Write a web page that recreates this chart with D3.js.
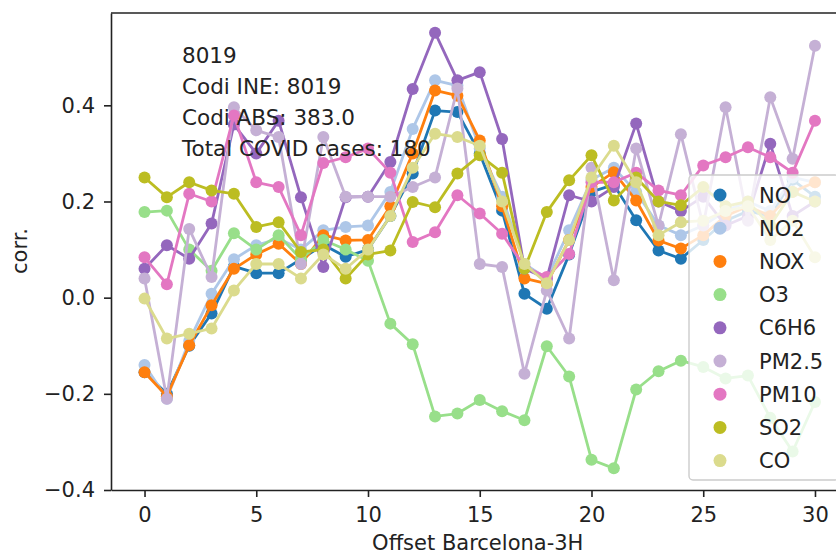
<!DOCTYPE html>
<html>
<head>
<meta charset="utf-8">
<script src="https://cdn.jsdelivr.net/npm/d3@7"></script>
<style>
  body { margin: 0; background: #fff; }
  text { font-family: "DejaVu Sans", sans-serif; fill: #222; }
</style>
</head>
<body>
<div id="chart"></div>
<script>
var offsets = [0,1,2,3,4,5,6,7,8,9,10,11,12,13,14,15,16,17,18,19,20,21,22,23,24,25,26,27,28,29,30];

var NO    = [-0.155,-0.20,-0.10,-0.033,0.065,0.051,0.051,0.08,0.11,0.085,0.10,0.17,0.258,0.389,0.386,0.30,0.181,0.008,-0.023,0.09,0.22,0.235,0.161,0.098,0.081,0.12,0.16,0.18,0.17,0.245,0.21];
var NO2   = [-0.14,-0.21,-0.09,0.008,0.08,0.109,0.123,0.10,0.14,0.147,0.15,0.22,0.351,0.452,0.441,0.31,0.21,0.07,0.04,0.14,0.245,0.27,0.22,0.15,0.13,0.15,0.18,0.20,0.18,0.25,0.24];
var NOX   = [-0.155,-0.205,-0.099,-0.016,0.06,0.09,0.112,0.07,0.13,0.119,0.12,0.19,0.30,0.431,0.42,0.327,0.19,0.04,0.029,0.12,0.23,0.261,0.202,0.119,0.102,0.13,0.17,0.19,0.17,0.22,0.24];
var O3    = [0.178,0.181,0.10,0.056,0.134,0.10,0.13,0.08,0.12,0.10,0.077,-0.054,-0.097,-0.247,-0.241,-0.213,-0.236,-0.255,-0.101,-0.164,-0.337,-0.355,-0.191,-0.153,-0.131,-0.144,-0.168,-0.162,-0.25,-0.32,-0.217];
var C6H6  = [0.06,0.109,0.081,0.154,0.36,0.30,0.368,0.209,0.064,0.209,0.21,0.282,0.434,0.551,0.452,0.469,0.33,0.06,0.04,0.213,0.20,0.23,0.362,0.20,0.18,0.21,0.15,0.17,0.32,0.17,0.20];
var PM25  = [0.04,-0.21,0.143,0.043,0.396,0.348,0.334,0.07,0.334,0.21,0.21,0.21,0.23,0.25,0.435,0.07,0.064,-0.158,0.015,-0.085,0.27,0.036,0.31,0.15,0.34,0.15,0.396,0.16,0.417,0.289,0.524];
var PM10  = [0.084,0.028,0.216,0.20,0.379,0.24,0.23,0.13,0.28,0.292,0.31,0.26,0.116,0.136,0.213,0.175,0.133,0.064,0.043,0.091,0.24,0.24,0.26,0.223,0.213,0.275,0.292,0.313,0.292,0.26,0.368];
var SO2   = [0.25,0.209,0.24,0.223,0.216,0.147,0.157,0.095,0.10,0.04,0.09,0.098,0.199,0.188,0.258,0.296,0.26,0.06,0.178,0.244,0.296,0.202,0.25,0.20,0.192,0.23,0.19,0.20,0.15,0.22,0.20];
var CO    = [-0.002,-0.085,-0.075,-0.064,0.015,0.07,0.07,0.04,0.09,0.06,0.10,0.17,0.27,0.341,0.334,0.316,0.20,0.07,0.03,0.12,0.25,0.316,0.24,0.13,0.157,0.16,0.18,0.19,0.12,0.16,0.084];

var names  = ["NO","NO2","NOX","O3","C6H6","PM2.5","PM10","SO2","CO"];
var colors = ["#1f77b4","#aec7e8","#ff7f0e","#98df8a","#9467bd","#c5b0d5","#e377c2","#bcbd22","#dbdb8d"];
var values = [NO, NO2, NOX, O3, C6H6, PM25, PM10, SO2, CO];

var xTicks = [0,5,10,15,20,25,30];
var yTicks = [-0.4,-0.2,0.0,0.2,0.4];
var infoLines = ["8019","Codi INE: 8019","Codi ABS: 383.0","Total COVID cases: 180"];

var svgWidth = 836, svgHeight = 555;
var plotLeft = 111, plotRight = 848.5, plotTop = 13, plotBottom = 490;
var fs = 21;

var xscale = d3.scaleLinear().domain([-1.5, 31.5]).range([plotLeft, plotRight]);
var yscale = d3.scaleLinear().domain([-0.4, 0.592]).range([plotBottom, plotTop]);

var svg = d3.select("#chart").append("svg")
  .attr("width", svgWidth)
  .attr("height", svgHeight);

svg.append("defs").append("clipPath").attr("id", "plot")
  .append("rect").attr("x", plotLeft).attr("y", plotTop)
  .attr("width", plotRight - plotLeft).attr("height", plotBottom - plotTop);

// series, drawn in legend order
var line = d3.line().x((d, i) => xscale(offsets[i])).y(d => yscale(d));
var plot = svg.append("g").attr("clip-path", "url(#plot)");
values.forEach(function(vals, k) {
  var g = plot.append("g");
  g.append("path")
    .datum(vals)
    .attr("d", line)
    .attr("fill", "none")
    .attr("stroke", colors[k])
    .attr("stroke-width", 2.8)
    .attr("stroke-linejoin", "round");
  g.selectAll("circle")
    .data(vals)
    .enter().append("circle")
    .attr("cx", (d, i) => xscale(offsets[i]))
    .attr("cy", d => yscale(d))
    .attr("r", 6)
    .attr("fill", colors[k]);
});

// axes
var xAxis = d3.axisBottom(xscale).tickValues(xTicks).tickSize(7).tickPadding(10).tickSizeOuter(0).tickFormat(d3.format("d"));
var yAxis = d3.axisLeft(yscale).tickValues(yTicks).tickSize(7).tickPadding(9).tickSizeOuter(0).tickFormat(d3.format(".1f"));

var gx = svg.append("g")
  .attr("transform", "translate(0," + plotBottom + ")")
  .call(xAxis);
var gy = svg.append("g")
  .attr("transform", "translate(" + plotLeft + ",0)")
  .call(yAxis);
[gx, gy].forEach(function(g) {
  g.selectAll("text").style("font-size", fs + "px").attr("fill", "#222");
  g.selectAll("line").attr("stroke", "#222").attr("stroke-width", 1.6);
  g.select(".domain").attr("stroke", "#222").attr("stroke-width", 1.6);
});
svg.append("line")
  .attr("x1", plotLeft).attr("x2", plotRight)
  .attr("y1", plotTop).attr("y2", plotTop)
  .attr("stroke", "#222").attr("stroke-width", 1.6);

svg.append("text")
  .attr("x", (plotLeft + plotRight) / 2 - 2)
  .attr("y", 550)
  .attr("text-anchor", "middle")
  .style("font-size", fs + "px")
  .text("Offset Barcelona-3H");

svg.append("text")
  .attr("transform", "translate(27,251) rotate(-90)")
  .attr("text-anchor", "middle")
  .style("font-size", fs + "px")
  .text("corr.");

// info text
svg.selectAll(".info")
  .data(infoLines)
  .enter().append("text")
  .attr("class", "info")
  .attr("x", 182)
  .attr("y", (d, i) => 63 + i * 31)
  .style("font-size", "21.5px")
  .text(d => d);

// legend
var legend = svg.append("g");
legend.append("rect")
  .attr("x", 689).attr("y", 175)
  .attr("width", 150).attr("height", 305)
  .attr("rx", 4)
  .attr("fill", "#fff").attr("fill-opacity", 0.8)
  .attr("stroke", "#ccc").attr("stroke-width", 1.4);
var rows = legend.selectAll(".row")
  .data(names)
  .enter().append("g")
  .attr("transform", (d, i) => "translate(0," + (195 + i * 33.2) + ")");
rows.append("circle")
  .attr("cx", 720).attr("cy", 0).attr("r", 6.5)
  .attr("fill", (d, i) => colors[i]);
rows.append("text")
  .attr("x", 759).attr("y", 7.5)
  .style("font-size", fs + "px")
  .text(d => d);
</script>
</body>
</html>
